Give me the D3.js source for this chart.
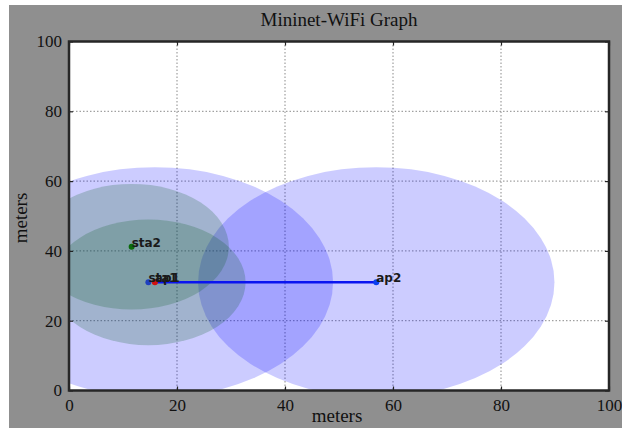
<!DOCTYPE html>
<html>
<head>
<meta charset="utf-8">
<script src="https://cdn.jsdelivr.net/npm/d3@7"></script>
<style>
    html, body { margin: 0; padding: 0; background: #fff; }
    svg { display: block; }
    .serif { font-family: "Liberation Serif", "DejaVu Serif", serif; }
</style>
</head>
<body>
<div id="chart"></div>
<script>
// node positions in meters
const nodeNames = ['sta1', 'sta2', 'ap1', 'ap2'];
const nodeX = [14.7, 11.6, 15.9, 56.9];
const nodeY = [31.0, 41.2, 31.0, 31.0];
const nodeRange = [18, 18, 33, 33];
const links = [['ap1', 'ap2']];
const xTicks = [0, 20, 40, 60, 80, 100];
const yTicks = [0, 20, 40, 60, 80, 100];

(function() {
    'use strict';

    const width = 622, height = 428;
    const plot = { left: 69, right: 609, top: 41.5, bottom: 390.5 };

    const svg = d3.select('#chart').append('svg')
        .attr('width', width)
        .attr('height', height);

    // grey figure background
    svg.append('rect')
        .attr('x', 9).attr('y', 5)
        .attr('width', width - 9).attr('height', height - 5)
        .attr('fill', '#8f8f8f');

    const x = d3.scaleLinear().domain([0, 100]).range([plot.left, plot.right]);
    const y = d3.scaleLinear().domain([0, 100]).range([plot.bottom, plot.top]);

    svg.append('defs').append('clipPath').attr('id', 'plot-clip')
        .append('rect')
        .attr('x', plot.left).attr('y', plot.top)
        .attr('width', plot.right - plot.left)
        .attr('height', plot.bottom - plot.top);

    svg.append('rect')
        .attr('x', plot.left).attr('y', plot.top)
        .attr('width', plot.right - plot.left)
        .attr('height', plot.bottom - plot.top)
        .attr('fill', '#fff');

    const nodes = nodeNames.map((name, i) => ({
        name, x: nodeX[i], y: nodeY[i], r: nodeRange[i],
        isAp: name.startsWith('ap')
    }));
    const byName = new Map(nodes.map(d => [d.name, d]));

    const inner = svg.append('g').attr('clip-path', 'url(#plot-clip)');

    // grid
    inner.append('g')
        .selectAll('line')
        .data(xTicks.slice(1, -1))
        .enter().append('line')
        .attr('x1', d => x(d)).attr('x2', d => x(d))
        .attr('y1', plot.top).attr('y2', plot.bottom)
        .attr('stroke', '#8a8a8a')
        .attr('stroke-width', 1)
        .attr('stroke-dasharray', '1.5,2');
    inner.append('g')
        .selectAll('line')
        .data(yTicks.slice(1, -1))
        .enter().append('line')
        .attr('y1', d => y(d)).attr('y2', d => y(d))
        .attr('x1', plot.left).attr('x2', plot.right)
        .attr('stroke', '#8a8a8a')
        .attr('stroke-width', 1)
        .attr('stroke-dasharray', '1.5,2');

    // signal ranges: aps first, stations on top
    const ranges = nodes.filter(d => d.isAp).concat(nodes.filter(d => !d.isAp));
    inner.append('g')
        .selectAll('ellipse')
        .data(ranges)
        .enter().append('ellipse')
        .attr('cx', d => x(d.x))
        .attr('cy', d => y(d.y))
        .attr('rx', d => x(d.r) - x(0))
        .attr('ry', d => y(0) - y(d.r))
        .attr('fill', d => d.isAp ? '#0000ff' : '#0a5a1e')
        .attr('fill-opacity', d => d.isAp ? 0.2 : 0.22);

    // links
    inner.append('g')
        .selectAll('line')
        .data(links)
        .enter().append('line')
        .attr('x1', d => x(byName.get(d[0]).x))
        .attr('y1', d => y(byName.get(d[0]).y))
        .attr('x2', d => x(byName.get(d[1]).x))
        .attr('y2', d => y(byName.get(d[1]).y))
        .attr('stroke', '#0a14f0')
        .attr('stroke-width', 2.5);

    const dotColor = { sta1: '#1f3fbf', sta2: '#0a6a0a', ap1: '#d01010', ap2: '#0a3ff0' };
    inner.append('g')
        .selectAll('circle')
        .data(nodes)
        .enter().append('circle')
        .attr('cx', d => x(d.x))
        .attr('cy', d => y(d.y))
        .attr('r', 3)
        .attr('fill', d => dotColor[d.name]);

    inner.append('g')
        .selectAll('text')
        .data(nodes)
        .enter().append('text')
        .attr('x', d => x(d.x))
        .attr('y', d => y(d.y))
        .style('font-family', '"DejaVu Sans", sans-serif')
        .style('font-weight', 'bold')
        .style('font-size', '12px')
        .attr('fill', '#1a1a1a')
        .text(d => d.name);

    // axes with inward ticks on all sides
    const tickStyle = g => {
        g.select('.domain').remove();
        g.attr('font-family', null).attr('font-size', null);
        g.selectAll('.tick line').attr('stroke', '#222').attr('stroke-width', 1.2);
        g.selectAll('.tick text')
            .attr('class', 'serif')
            .style('font-size', '17px')
            .attr('fill', '#111');
    };

    svg.append('g')
        .attr('transform', `translate(0,${plot.bottom})`)
        .call(d3.axisBottom(x).tickValues(xTicks).tickSize(-4).tickPadding(8))
        .call(tickStyle);
    svg.append('g')
        .attr('transform', `translate(0,${plot.top})`)
        .call(d3.axisTop(x).tickValues(xTicks).tickSize(-4).tickFormat(''))
        .call(tickStyle);
    svg.append('g')
        .attr('transform', `translate(${plot.left},0)`)
        .call(d3.axisLeft(y).tickValues(yTicks).tickSize(-4).tickPadding(7))
        .call(tickStyle);
    svg.append('g')
        .attr('transform', `translate(${plot.right},0)`)
        .call(d3.axisRight(y).tickValues(yTicks).tickSize(-4).tickFormat(''))
        .call(tickStyle);

    // frame
    svg.append('rect')
        .attr('x', plot.left).attr('y', plot.top)
        .attr('width', plot.right - plot.left)
        .attr('height', plot.bottom - plot.top)
        .attr('fill', 'none')
        .attr('stroke', '#262626')
        .attr('stroke-width', 2.5);

    svg.append('text')
        .attr('class', 'serif')
        .attr('x', (plot.left + plot.right) / 2)
        .attr('y', 26)
        .attr('text-anchor', 'middle')
        .style('font-size', '19px')
        .attr('fill', '#111')
        .text('Mininet-WiFi Graph');

    svg.append('text')
        .attr('class', 'serif')
        .attr('x', 337)
        .attr('y', 422)
        .attr('text-anchor', 'middle')
        .style('font-size', '19px')
        .attr('fill', '#111')
        .text('meters');

    svg.append('text')
        .attr('class', 'serif')
        .attr('transform', 'translate(27,218) rotate(-90)')
        .attr('text-anchor', 'middle')
        .style('font-size', '19px')
        .attr('fill', '#111')
        .text('meters');
})();
</script>
</body>
</html>
